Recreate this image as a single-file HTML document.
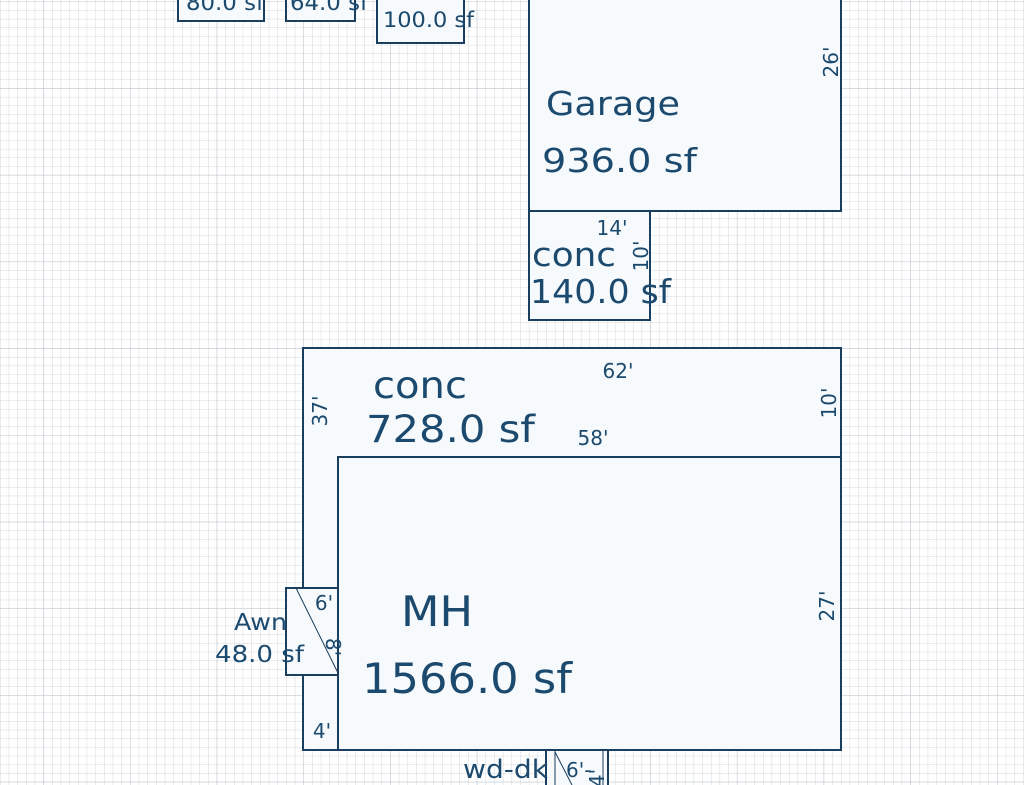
<!DOCTYPE html>
<html><head><meta charset="utf-8"><style>
html,body{margin:0;padding:0;background:#fff;}
svg{display:block;}
text{font-family:"DejaVu Sans","Liberation Sans",sans-serif;fill:#1b4a6e;}
</style></head><body>
<svg width="1024" height="785" viewBox="0 0 1024 785" xmlns="http://www.w3.org/2000/svg">
<defs>
<pattern id="g" x="0" y="1.5" width="8.67" height="8.67" patternUnits="userSpaceOnUse">
<path d="M0 0H8.67M0 0V8.67" stroke="#d2d8de" stroke-width="1" fill="none"/>
</pattern>
<pattern id="G" x="43.3" y="1.5" width="86.7" height="86.7" patternUnits="userSpaceOnUse">
<path d="M0 0H86.7M0 0V86.7" stroke="#c0c7cf" stroke-width="1" fill="none"/>
</pattern>
</defs>
<rect width="1024" height="785" fill="#fff"/>
<rect width="1024" height="785" fill="url(#g)"/>
<rect width="1024" height="785" fill="url(#G)"/>
<g fill="#f7fafc" stroke="#1a3e5e" stroke-width="2">
<rect x="178" y="-20" width="86" height="41"/>
<rect x="286" y="-20" width="69" height="41"/>
<rect x="377" y="-20" width="87" height="63"/>
<rect x="529" y="-20" width="312" height="231"/>
<rect x="529" y="211" width="121" height="109"/>
<rect x="303" y="348" width="538" height="402"/>
<rect x="338" y="457" width="503" height="293"/>
<rect x="286" y="588" width="52" height="87"/>
<rect x="546" y="750" width="62" height="40"/>
</g>
<g stroke="#1a3e5e" stroke-width="1">
<line x1="296" y1="588" x2="338" y2="673"/>
<line x1="555" y1="750" x2="555" y2="785"/>
<line x1="555" y1="752" x2="572" y2="785"/>
<line x1="603" y1="750" x2="603" y2="785"/>
</g>
<text x="186" y="10" font-size="22" textLength="78" lengthAdjust="spacingAndGlyphs">80.0 sf</text>
<text x="290" y="10" font-size="22" textLength="78" lengthAdjust="spacingAndGlyphs">64.0 sf</text>
<text x="383" y="27" font-size="21" textLength="91" lengthAdjust="spacingAndGlyphs">100.0 sf</text>
<text x="546" y="115" font-size="33" textLength="134" lengthAdjust="spacingAndGlyphs">Garage</text>
<text x="542" y="172" font-size="33" textLength="155" lengthAdjust="spacingAndGlyphs">936.0 sf</text>
<text x="838" y="62" font-size="20" transform="rotate(-90 838 62)" text-anchor="middle">26'</text>
<text x="612" y="235" font-size="20" text-anchor="middle">14'</text>
<text x="648" y="256" font-size="20" transform="rotate(-90 648 256)" text-anchor="middle">10'</text>
<text x="532" y="266" font-size="33" textLength="84" lengthAdjust="spacingAndGlyphs">conc</text>
<text x="530" y="303" font-size="33" textLength="141" lengthAdjust="spacingAndGlyphs">140.0 sf</text>
<text x="618" y="378" font-size="20" text-anchor="middle">62'</text>
<text x="373" y="398" font-size="37" textLength="94" lengthAdjust="spacingAndGlyphs">conc</text>
<text x="366" y="442" font-size="37" textLength="169" lengthAdjust="spacingAndGlyphs">728.0 sf</text>
<text x="593" y="445" font-size="20" text-anchor="middle">58'</text>
<text x="327" y="411" font-size="20" transform="rotate(-90 327 411)" text-anchor="middle">37'</text>
<text x="836" y="403" font-size="20" transform="rotate(-90 836 403)" text-anchor="middle">10'</text>
<text x="834" y="606" font-size="20" transform="rotate(-90 834 606)" text-anchor="middle">27'</text>
<text x="401" y="626" font-size="42" textLength="72" lengthAdjust="spacingAndGlyphs">MH</text>
<text x="362" y="693" font-size="42" textLength="210" lengthAdjust="spacingAndGlyphs">1566.0 sf</text>
<text x="234" y="630" font-size="23" textLength="53" lengthAdjust="spacingAndGlyphs">Awn</text>
<text x="215" y="662" font-size="23" textLength="89" lengthAdjust="spacingAndGlyphs">48.0 sf</text>
<text x="324" y="610" font-size="20" text-anchor="middle">6'</text>
<text x="318" y="655" font-size="20" transform="rotate(90 326 655)" text-anchor="middle">8'</text>
<text x="322" y="738" font-size="20" text-anchor="middle">4'</text>
<text x="463" y="778" font-size="26" textLength="85" lengthAdjust="spacingAndGlyphs">wd-dk</text>
<text x="566" y="777" font-size="20">6'-</text>
<text x="604" y="778" font-size="20" transform="rotate(-90 604 778)" text-anchor="middle">4'</text>
</svg>
</body></html>
